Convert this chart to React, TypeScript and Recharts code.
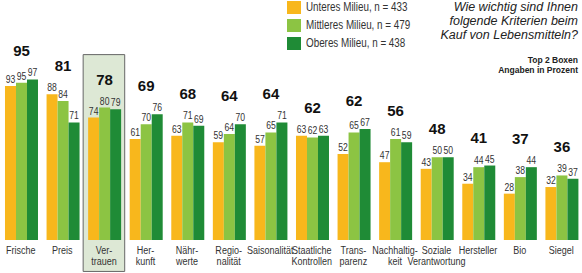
import { BarChart, Bar, XAxis, YAxis, LabelList, ReferenceArea } from 'recharts';

const categories = [
    'Frische', 'Preis', 'Ver-\ntrauen', 'Her-\nkunft', 'Nähr-\nwerte', 'Regio-\nnalität', 'Saisonalität',
    'Staatliche\nKontrollen', 'Trans-\nparenz', 'Nachhaltig-\nkeit', 'Soziale\nVerantwortung', 'Hersteller', 'Bio', 'Siegel',
];
const unteres = [93, 88, 74, 61, 63, 59, 57, 63, 52, 47, 43, 34, 28, 32];
const mittleres = [95, 84, 80, 70, 71, 64, 65, 62, 65, 61, 50, 44, 38, 39];
const oberes = [97, 71, 79, 76, 69, 70, 71, 63, 67, 59, 50, 45, 44, 37];
const totals = [95, 81, 78, 69, 68, 64, 64, 62, 62, 56, 48, 41, 37, 36];

const seriesNames = ['Unteres Milieu, n = 433', 'Mittleres Milieu, n = 479', 'Oberes Milieu, n = 438'];
const titleLines = ['Wie wichtig sind Ihnen', 'folgende Kriterien beim', 'Kauf von Lebensmitteln?'];
const noteLines = ['Top 2 Boxen', 'Angaben in Prozent'];
const highlighted = 'Ver-\ntrauen';

const COLORS = ['#f8b71c', '#8cc443', '#1f8b36'];
const SANS = "'Liberation Sans', Arial, sans-serif";
const SQUEEZE = 0.82; // no narrow font installed, so squeeze Liberation Sans

function CategoryTick({ x, y, payload }: any) {
    const lines = String(payload.value).split('\n');
    return (
        <g>
            {lines.map((l, i) => (
                <text key={i} transform={`translate(${x},${y + 6 + i * 11}) scale(${SQUEEZE},1)`} textAnchor="middle"
                    fill="#333" fontSize={11} fontFamily={SANS}>
                    {l}
                </text>
            ))}
        </g>
    );
}

function ValueLabel({ x, y, width, value }: any) {
    return (
        <text transform={`translate(${x + width / 2},${y - 3}) scale(${SQUEEZE},1)`} textAnchor="middle"
            fill="#333" fontSize={10.5} fontFamily={SANS}>
            {value}
        </text>
    );
}

// total sits above the tallest bar of the group
function TotalLabel(props: any) {
    const { x, y, width, height, value, index } = props;
    const base = y + height;
    const ppu = height / value;
    const max = Math.max(unteres[index], mittleres[index], oberes[index]);
    const ty = base - max * ppu - 23;
    return (
        <text x={x + width / 2} y={ty} textAnchor="middle" fill="#111" fontSize={15} fontWeight="bold" fontFamily={SANS}>
            {totals[index]}
        </text>
    );
}

const data = categories.map((name, i) => ({ name, u: unteres[i], m: mittleres[i], o: oberes[i] }));

export default function App() {
    return (
        <div style={{ position: 'absolute', left: 0, top: 0, width: 582, height: 273, background: '#fff', fontFamily: SANS }}>
            <BarChart width={582} height={273} data={data} margin={{ top: 0, right: 0, left: 0, bottom: 0 }}
                barCategoryGap="12%" barGap={0}>
                <XAxis dataKey="name" axisLine={false} tickLine={false} interval={0} height={33} tick={<CategoryTick />} />
                <YAxis hide domain={[0, 145]} />
                <ReferenceArea x1={highlighted} x2={highlighted} y1={-19} y2={112} ifOverflow="visible"
                    fill="#dde8d5" fillOpacity={1} stroke="#666" strokeWidth={1} />
                <Bar dataKey="u" fill={COLORS[0]} isAnimationActive={false}>
                    <LabelList dataKey="u" content={<ValueLabel />} />
                </Bar>
                <Bar dataKey="m" fill={COLORS[1]} isAnimationActive={false}>
                    <LabelList dataKey="m" content={<ValueLabel />} />
                    <LabelList dataKey="m" content={<TotalLabel />} />
                </Bar>
                <Bar dataKey="o" fill={COLORS[2]} isAnimationActive={false}>
                    <LabelList dataKey="o" content={<ValueLabel />} />
                </Bar>
            </BarChart>

            {seriesNames.map((s, i) => (
                <div key={s} style={{ position: 'absolute', left: 287, top: 1 + i * 18, display: 'flex', alignItems: 'center' }}>
                    <div style={{ width: 14, height: 12.5, background: COLORS[i] }} />
                    <span style={{ marginLeft: 5, fontSize: 12, color: '#333', lineHeight: '12px', whiteSpace: 'nowrap',
                        display: 'inline-block', transform: `scaleX(${SQUEEZE})`, transformOrigin: 'left center' }}>{s}</span>
                </div>
            ))}

            <div style={{ position: 'absolute', right: 4, top: 0, textAlign: 'right', fontStyle: 'italic', fontSize: 12.5,
                lineHeight: '14px', color: '#222' }}>
                {titleLines.map((l) => <div key={l}>{l}</div>)}
            </div>
            <div style={{ position: 'absolute', right: 4, top: 55, textAlign: 'right', fontWeight: 'bold', fontSize: 8.5,
                lineHeight: '10px', color: '#222' }}>
                {noteLines.map((l) => <div key={l}>{l}</div>)}
            </div>
        </div>
    );
}
